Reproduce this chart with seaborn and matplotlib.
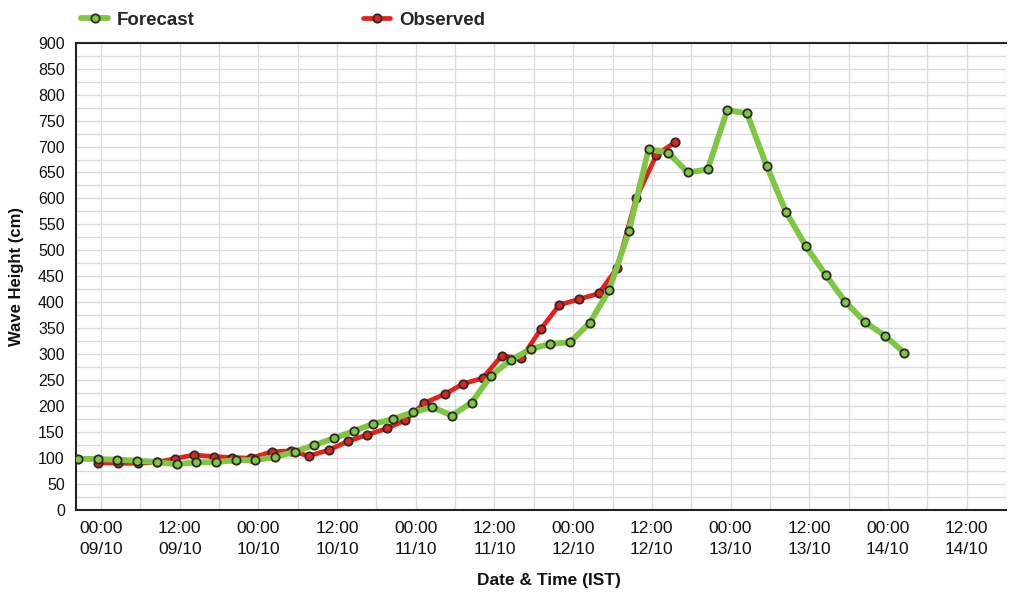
import numpy as np
import pandas as pd
import matplotlib
matplotlib.use('Agg')
import matplotlib.pyplot as plt
import matplotlib.dates as mdates
from matplotlib.ticker import MultipleLocator
import seaborn as sns

# Forecast: 3-hourly model output (IST), starting 20:30 on 08/10
forecast_start = '2013-10-08 20:30'
forecast_cm = [99, 98, 97, 95, 92, 88, 92, 92, 96, 96,
               102, 112, 125, 138, 152, 166, 175, 188, 198, 182,
               207, 259, 289, 310, 320, 323, 360, 424, 537, 695,
               688, 650, 656, 770, 764, 663, 573, 508, 453, 401,
               362, 336, 303]

# Observed: hours after 00:00 09/10 and heights
obs_hours = [-0.5, 2.6, 5.6, 8.6, 11.3, 14.1, 17.2, 20.0, 22.8, 26.0,
             28.9, 31.7, 34.8, 37.6, 40.6, 43.6, 46.4, 49.3, 52.4, 55.2,
             58.2, 61.1, 64.1, 67.1, 69.9, 72.9, 75.9, 78.7, 81.6, 84.7,
             87.5]
obs_cm = [91, 90, 90, 92, 99, 106, 103, 101, 100, 112,
          114, 104, 116, 132, 145, 157, 173, 206, 223, 243,
          254, 297, 292, 349, 395, 406, 417, 466, 600, 684,
          708]

GREEN = '#7fc743'
RED = '#e3221b'
EDGE = '#2a2a2a'

forecast = pd.DataFrame({
    'time': pd.date_range(forecast_start, periods=len(forecast_cm), freq='3h'),
    'height': forecast_cm,
})
observed = pd.DataFrame({
    'time': pd.Timestamp('2013-10-09') + pd.to_timedelta(obs_hours, unit='h'),
    'height': obs_cm,
})

sns.set_style('white')
plt.rcParams['font.family'] = ['Liberation Sans', 'DejaVu Sans']

fig = plt.figure(figsize=(10.13, 5.92), dpi=100)
ax = fig.add_axes([0.075, 0.1385, 0.918, 0.7894])

sns.lineplot(data=observed, x='time', y='height', ax=ax, color=RED,
             linewidth=3.4, marker='o', markersize=6, markerfacecolor=RED,
             markeredgecolor=EDGE, markeredgewidth=1.3, label='Observed',
             estimator=None, sort=False, zorder=3)
sns.lineplot(data=forecast, x='time', y='height', ax=ax, color=GREEN,
             linewidth=4.2, marker='o', markersize=6, markerfacecolor=GREEN,
             markeredgecolor=EDGE, markeredgewidth=1.3, label='Forecast',
             estimator=None, sort=False, zorder=4)

ax.set_xlim(pd.Timestamp('2013-10-08 20:10'), pd.Timestamp('2013-10-14 18:00'))
ax.set_ylim(0, 900)

ax.xaxis.set_major_locator(mdates.HourLocator(byhour=[0, 12]))
ax.xaxis.set_major_formatter(mdates.DateFormatter('%H:%M\n%d/%m'))
ax.xaxis.set_minor_locator(mdates.HourLocator(byhour=[6, 18]))
ax.yaxis.set_major_locator(MultipleLocator(50))
ax.yaxis.set_minor_locator(MultipleLocator(25))

ax.grid(which='both', color='#dcdcdc', linewidth=1.0)
ax.set_axisbelow(True)

ax.tick_params(axis='x', which='both', direction='out', length=5, width=1.2,
               color='#222222', labelsize=12.5, pad=3, labelcolor='#111111')
ax.tick_params(axis='y', which='major', direction='out', length=6, width=1.2,
               color='#222222', labelsize=11.5, pad=2, labelcolor='#111111')
ax.tick_params(axis='y', which='minor', direction='out', length=3.5, width=1.2,
               color='#222222')

for side in ['left', 'bottom', 'top']:
    ax.spines[side].set_visible(True)
    ax.spines[side].set_color('#222222')
    ax.spines[side].set_linewidth(1.5)
ax.spines['right'].set_visible(False)

ax.set_xlabel('Date & Time (IST)', fontweight='bold', fontsize=12.5, color='#111111')
ax.set_ylabel('Wave Height (cm)', fontweight='bold', fontsize=12, color='#111111')
ax.xaxis.set_label_coords(0.509, -0.135)
ax.yaxis.set_label_coords(-0.056, 0.5)

# legend on top, forecast first
handles, labels = ax.get_legend_handles_labels()
order = [labels.index('Forecast'), labels.index('Observed')]
ax.get_legend().remove()
fig.legend([handles[i] for i in order], [labels[i] for i in order],
           loc='center left', bbox_to_anchor=(81 / 1013, 1 - 20 / 592),
           ncol=2, frameon=False, prop={'weight': 'bold', 'size': 13.5},
           handlelength=1.45, handletextpad=0.45, columnspacing=9.0,
           borderaxespad=0, borderpad=0)

fig.canvas.draw()
for lbl in ax.get_xticklabels():
    lbl.set_linespacing(1.45)

fig.savefig('out.png', dpi=100)
